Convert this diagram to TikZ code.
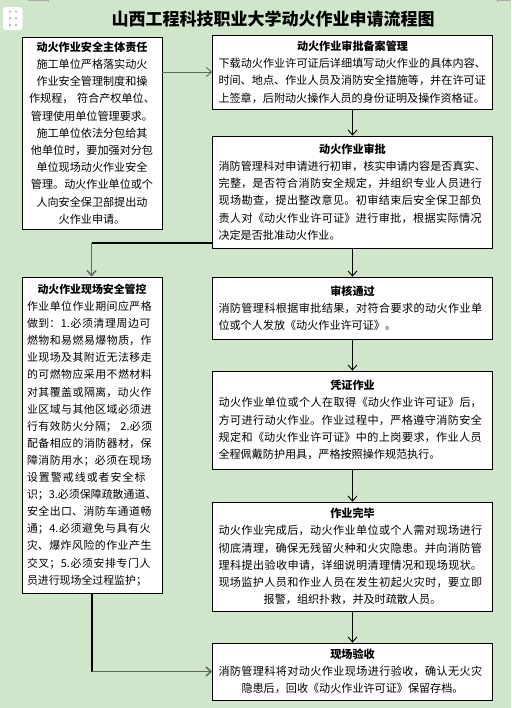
\documentclass[tikz,border=0pt]{standalone}
\usepackage{fontspec}
\setmainfont{Noto Sans CJK SC}
\usetikzlibrary{arrows.meta}
\XeTeXlinebreaklocale "zh"
\XeTeXlinebreakskip=0pt plus 2pt
\setlength\parindent{0pt}
\definecolor{bg}{RGB}{207,230,203}
\definecolor{gline}{RGB}{95,105,95}
\begin{document}
\begin{tikzpicture}[x=1pt,y=-1pt,
  box/.style={draw=black, line width=0.8pt, fill=white, inner sep=0pt,
    font=\fontsize{11.1pt}{17.2pt}\selectfont},
  rbox/.style={box, minimum width=280pt, text width=268pt},
  lbox/.style={box, minimum width=140pt},
  arr/.style={-{Straight Barb[length=5pt,width=9pt]}, line width=0.9pt, draw=black},
  thickln/.style={line width=2pt, draw=black},
  greyarr/.style={-{Straight Barb[length=5pt,width=9pt]}, line width=1.5pt, draw=gline},
  dot/.style={fill=gray!55}]
\fill[bg] (0,0) rectangle (511,708);
\path[use as bounding box] (0,0) rectangle (511,708);
% top edge marks
\draw[gray!65, line width=0.8pt] (28,0.5) -- (48,0.5) -- (48,2.5);
\draw[gray!65, line width=0.8pt] (497,2.5) -- (497,0.5) -- (511,0.5);
% icon
\node[fill=white, rounded corners=3pt, minimum width=19.5pt, minimum height=23pt, inner sep=0pt] (icon) at (12.8,18.5) {};
\foreach \yy in {11.7,18.3,25} {
  \fill[dot] (10,\yy) circle (1.3pt);
  \fill[dot] (16,\yy) circle (1.3pt);
}
% title
\node[font=\fontsize{17pt}{20pt}\selectfont\bfseries, inner sep=0pt] (title) at (273,18.5) {山西工程科技职业大学动火作业申请流程图};

% left box 1
\node[lbox, minimum height=192pt, text width=135pt] (lb1) at (92,133) {%
{\centering\textbf{动火作业安全主体责任}\\
施工单位严格落实动火\\
作业安全管理制度和操\\
作规程， 符合产权单位、\\
管理使用单位管理要求。\\
施工单位依法分包给其\\
他单位时，要加强对分包\\
单位现场动火作业安全\\
管理。动火作业单位或个\\
人向安全保卫部提出动\\
火作业申请。\par}};

% left box 2
\node[lbox, minimum height=316pt, text width=130pt, font=\fontsize{10.9pt}{17.1pt}\selectfont] (lb2) at (92,435) {%
{\centering\bfseries 动火作业现场安全管控\par}
作业单位作业期间应严格\linebreak
做到：1.必须清理周边可\linebreak
燃物和易燃易爆物质，作\linebreak
业现场及其附近无法移走\linebreak
的可燃物应采用不燃材料\linebreak
对其覆盖或隔离，动火作\linebreak
业区域与其他区域必须进\linebreak
行有效防火分隔； 2.必须\linebreak
配备相应的消防器材，保\linebreak
障消防用水；必须在现场\linebreak
设置警戒线或者安全标\linebreak
识；3.必须保障疏散通道、\linebreak
安全出口、消防车通道畅\linebreak
通；4.必须避免与具有火\linebreak
灾、爆炸风险的作业产生\linebreak
交叉；5.必须安排专门人\linebreak
员进行现场全过程监护；\par};

% right boxes
\node[rbox, minimum height=74pt] (rb1) at (352.5,72) {%
{\centering\bfseries 动火作业审批备案管理\par}
下载动火作业许可证后详细填写动火作业的具体内容、\linebreak
时间、地点、作业人员及消防安全措施等，并在许可证\linebreak
上签章，后附动火操作人员的身份证明及操作资格证。\par};

\node[rbox, minimum height=112pt] (rb2) at (352.5,192) {%
{\centering\bfseries 动火作业审批\par}
消防管理科对申请进行初审，核实申请内容是否真实、\linebreak
完整，是否符合消防安全规定，并组织专业人员进行\linebreak
现场勘查，提出整改意见。初审结束后安全保卫部负\linebreak
责人对《动火作业许可证》进行审批，根据实际情况\linebreak
决定是否批准动火作业。\par};

\node[rbox, minimum height=62pt] (rb3) at (352.5,308) {%
{\centering\bfseries 审核通过\par}
消防管理科根据审批结果，对符合要求的动火作业单\linebreak
位或个人发放《动火作业许可证》。\par};

\node[rbox, minimum height=98pt] (rb4) at (352.5,420) {%
{\centering\bfseries 凭证作业\par}
动火作业单位或个人在取得《动火作业许可证》后，\linebreak
方可进行动火作业。作业过程中，严格遵守消防安全\linebreak
规定和《动火作业许可证》中的上岗要求，作业人员\linebreak
全程佩戴防护用具，严格按照操作规范执行。\par};

\node[rbox, minimum height=109pt] (rb5) at (352.5,556.5) {%
{\centering\bfseries 作业完毕\par}
{\parfillskip=0pt
动火作业完成后，动火作业单位或个人需对现场进行\linebreak
彻底清理，确保无残留火种和火灾隐患。并向消防管\linebreak
理科提出验收申请，详细说明清理情况和现场现状。\linebreak
现场监护人员和作业人员在发生初起火灾时，要立即\par}
{\centering 报警，组织扑救，并及时疏散人员。\par}};

\node[rbox, minimum height=57pt] (rb6) at (352.5,671.5) {%
{\centering\bfseries 现场验收\par}
{\parfillskip=0pt
消防管理科将对动火作业现场进行验收，确认无火灾\par}
{\centering 隐患后，回收《动火作业许可证》保留存档。\par}};

% connectors
\draw[arr, draw=gline] (lb1.east |- rb1.west) -- (rb1.west);
\draw[arr] (rb1) -- (rb2);
\draw[arr] (rb2) -- (rb3);
\draw[arr] (rb3) -- (rb4);
\draw[arr] (rb4) -- (rb5);
\draw[arr] (rb5) -- (rb6);
\coordinate (k1) at (91.5,243);
\draw[thickln] (rb2.west |- k1) -- (k1);
\draw[greyarr] (k1) -- (lb2.north -| k1);
\coordinate (k2) at (92,671.5);
\draw[thickln] (lb2.south) -- (k2);
\draw[greyarr] (k2) -- (rb6.west);
\end{tikzpicture}
\end{document}
